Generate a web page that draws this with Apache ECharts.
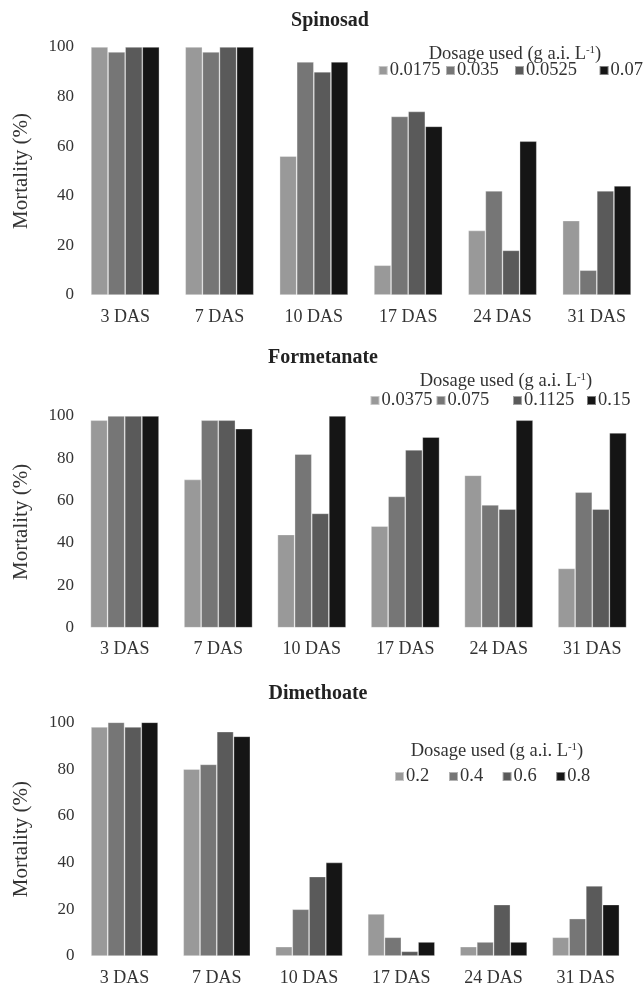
<!DOCTYPE html>
<html><head><meta charset="utf-8">
<script src="https://cdn.jsdelivr.net/npm/echarts@6/dist/echarts.min.js"></script>
<style>html,body{margin:0;padding:0;background:#fff}#c{width:644px;height:988px}</style>
</head><body><div id="c"></div>
<script>
const categories = ['3 DAS','7 DAS','10 DAS','17 DAS','24 DAS','31 DAS'];
const yTicks = [0, 20, 40, 60, 80, 100];
const panelTitles = ['Spinosad', 'Formetanate', 'Dimethoate'];
const legendTitle = 'Dosage used (g a.i. L';

const spinosadDoses = ['0.0175', '0.035', '0.0525', '0.07'];
const spinosad_0175 = [100, 100, 56, 12, 26, 30];
const spinosad_035  = [98, 98, 94, 72, 42, 10];
const spinosad_0525 = [100, 100, 90, 74, 18, 42];
const spinosad_07   = [100, 100, 94, 68, 62, 44];

const formetanateDoses = ['0.0375', '0.075', '0.1125', '0.15'];
const formetanate_0375 = [98, 70, 44, 48, 72, 28];
const formetanate_075  = [100, 98, 82, 62, 58, 64];
const formetanate_1125 = [100, 98, 54, 84, 56, 56];
const formetanate_15   = [100, 94, 100, 90, 98, 92];

const dimethoateDoses = ['0.2', '0.4', '0.6', '0.8'];
const dimethoate_2 = [98, 80, 4, 18, 4, 8];
const dimethoate_4 = [100, 82, 20, 8, 6, 16];
const dimethoate_6 = [98, 96, 34, 2, 22, 30];
const dimethoate_8 = [100, 94, 40, 6, 6, 22];

const panelDoses = [spinosadDoses, formetanateDoses, dimethoateDoses];
const panelValues = [
  [spinosad_0175, spinosad_035, spinosad_0525, spinosad_07],
  [formetanate_0375, formetanate_075, formetanate_1125, formetanate_15],
  [dimethoate_2, dimethoate_4, dimethoate_6, dimethoate_8]
];

// layout (styles / positions only)
const colors = ['#999999', '#767676', '#5a5a5a', '#151515'];
const FONT = "'Liberation Serif', 'Times New Roman', serif";
const grids = [
  {left: 78, right: 0, top: 47, height: 248},
  {left: 78, right: 5, top: 416, height: 211.7},
  {left: 78.4, right: 12, top: 722.3, height: 233.7}
];
const catGaps = ['27.4%', '26.7%', '27.3%'];
const titlePos = [[330, 22], [323, 359], [318, 695]];
const legTitlePos = [[515, 56], [506, 383], [497, 753]];
const legItemX = [[377.7, 445, 514, 598.6], [369.5, 435.5, 512, 586], [394, 448, 501.6, 555.2]];
const legItemY = [72, 402, 778];

const title = [], legend = [], xAxis = [], yAxis = [], series = [];
for (let p = 0; p < 3; p++) {
  title.push({
    text: panelTitles[p], left: titlePos[p][0], top: titlePos[p][1] - 11, textAlign: 'center', padding: 0,
    textStyle: {fontFamily: FONT, fontSize: 20, fontWeight: 'bold', color: '#222'}
  });
  title.push({
    text: '{a|' + legendTitle + '}{s|-1}{a|)}', left: legTitlePos[p][0], top: legTitlePos[p][1] - 11,
    textAlign: 'center', padding: 0,
    textStyle: {
      fontWeight: 'normal', fontFamily: FONT,
      rich: {
        a: {fontFamily: FONT, fontWeight: 'normal', fontSize: 18.5, color: '#333', verticalAlign: 'bottom'},
        s: {fontFamily: FONT, fontWeight: 'normal', fontSize: 11, color: '#333', verticalAlign: 'top', padding: [0, 0, 8, 0]}
      }
    }
  });
  xAxis.push({
    type: 'category', gridIndex: p, data: categories,
    axisLine: {show: false}, axisTick: {show: false},
    axisLabel: {fontFamily: FONT, fontSize: 18, color: '#333', margin: 13}
  });
  yAxis.push({
    type: 'value', gridIndex: p, min: yTicks[0], max: yTicks[yTicks.length - 1], interval: yTicks[1] - yTicks[0],
    splitLine: {show: false}, axisLine: {show: false}, axisTick: {show: false},
    axisLabel: {fontFamily: FONT, fontSize: 17, color: '#333', margin: 4},
    name: 'Mortality (%)', nameLocation: 'middle', nameGap: 46,
    nameTextStyle: {fontFamily: FONT, fontSize: 21, color: '#333'}
  });
  for (let s = 0; s < 4; s++) {
    series.push({
      type: 'bar', name: panelDoses[p][s], xAxisIndex: p, yAxisIndex: p,
      data: panelValues[p][s], barGap: '0%', barCategoryGap: catGaps[p],
      itemStyle: {color: colors[s], borderColor: 'rgba(255,255,255,0.45)', borderWidth: 0.7},
      emphasis: {disabled: true}, animation: false
    });
    legend.push({
      data: [panelDoses[p][s]], left: legItemX[p][s], top: legItemY[p] - 11, padding: 0,
      itemWidth: 9, itemHeight: 9, itemGap: 0, selectedMode: false, icon: 'rect',
      textStyle: {fontFamily: FONT, fontSize: 18.5, color: '#333', padding: [0, 0, 0, -3]}
    });
  }
}

const chart = echarts.init(document.getElementById('c'), null, {renderer: 'canvas'});
chart.setOption({animation: false, backgroundColor: '#fff', title, legend, grid: grids, xAxis, yAxis, series});
</script>
</body></html>
